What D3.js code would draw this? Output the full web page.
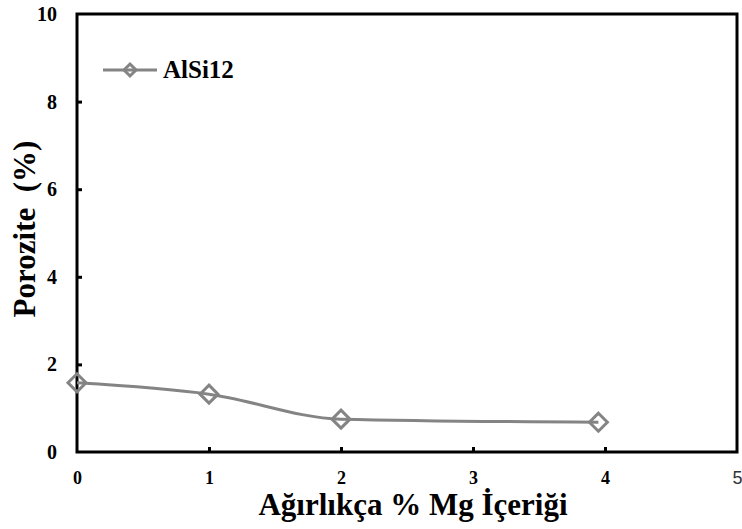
<!DOCTYPE html>
<html><head><meta charset="utf-8">
<script src="https://cdn.jsdelivr.net/npm/d3@7/dist/d3.min.js"></script>
<style>body{margin:0;background:#fff}svg{display:block}</style>
</head><body>
<script>
const mgContent = [0, 1, 2, 3.95];
const porosity = [1.58, 1.32, 0.75, 0.68];
const seriesName = "AlSi12";
const xTicks = [0, 1, 2, 3, 4, 5];
const yTicks = [0, 2, 4, 6, 8, 10];
const xTitle = "Ağırlıkça % Mg İçeriği";
const yTitle = "Porozite  (%)";

const W = 742, H = 529;
const m = {left: 77, top: 14, right: 5, bottom: 77};
const svg = d3.select("body").append("svg").attr("width", W).attr("height", H);
const x = d3.scaleLinear().domain([0, 5]).range([m.left, W - m.right]);
const y = d3.scaleLinear().domain([0, 10]).range([H - m.bottom, m.top]);
const SERIF = '"Liberation Serif"';
const bold = (sel, size) => sel.style("font-family", SERIF).style("font-weight", "bold").style("font-size", size + "px");

// frame
svg.append("rect").attr("x", x(0)).attr("y", y(10)).attr("width", x(5) - x(0)).attr("height", y(0) - y(10))
  .attr("fill", "none").attr("stroke", "#000").attr("stroke-width", 3);

// axes
const xa = svg.append("g").attr("transform", `translate(0,${y(0)})`)
  .call(d3.axisBottom(x).tickValues(xTicks).tickSize(-5).tickPadding(19).tickFormat(d3.format("d")));
xa.select(".domain").remove();
xa.selectAll("line").attr("stroke", "#000").attr("stroke-width", 3);
bold(xa.selectAll("text"), 18).attr("fill", "#000");
xa.selectAll(".tick").filter(d => d === 5).select("text")
  .style("font-family", '"Liberation Sans"').style("font-weight", "normal").attr("fill", "#333");
xa.selectAll(".tick").filter(d => d === 0 || d === 5).select("line").remove();

const ya = svg.append("g").attr("transform", `translate(${x(0)},0)`)
  .call(d3.axisLeft(y).tickValues(yTicks).tickSize(-5).tickPadding(20).tickFormat(d3.format("d")));
ya.select(".domain").remove();
ya.selectAll("line").attr("stroke", "#000").attr("stroke-width", 3);
bold(ya.selectAll("text"), 20).attr("fill", "#000");
ya.selectAll(".tick").filter(d => d === 0 || d === 10).select("line").remove();

// series
const pts = mgContent.map((v, i) => [v, porosity[i]]);
const line = d3.line().x(d => x(d[0])).y(d => y(d[1])).curve(d3.curveMonotoneX);
svg.append("path").datum(pts).attr("d", line).attr("fill", "none").attr("stroke", "#848484").attr("stroke-width", 3);
const diamond = s => `M0,${-s}L${s},0L0,${s}L${-s},0Z`;
svg.selectAll(".mk").data(pts).enter().append("path")
  .attr("transform", d => `translate(${x(d[0])},${y(d[1])})`)
  .attr("d", diamond(9)).attr("fill", "none").attr("stroke", "#848484").attr("stroke-width", 3);

// legend
const lg = svg.append("g").attr("transform", "translate(103,70)");
lg.append("line").attr("x1", 0).attr("x2", 54).attr("stroke", "#848484").attr("stroke-width", 3);
lg.append("path").attr("transform", "translate(27,0)").attr("d", diamond(6)).attr("fill", "none").attr("stroke", "#848484").attr("stroke-width", 3);
bold(lg.append("text").attr("x", 60).attr("y", 8).text(seriesName), 25);

// titles
bold(svg.append("text").attr("x", 413).attr("y", 515).attr("text-anchor", "middle").text(xTitle), 31);
bold(svg.append("text").attr("transform", `translate(35,229) rotate(-90)`).attr("text-anchor", "middle").text(yTitle), 31)
  .style("white-space", "pre");
</script>
</body></html>
